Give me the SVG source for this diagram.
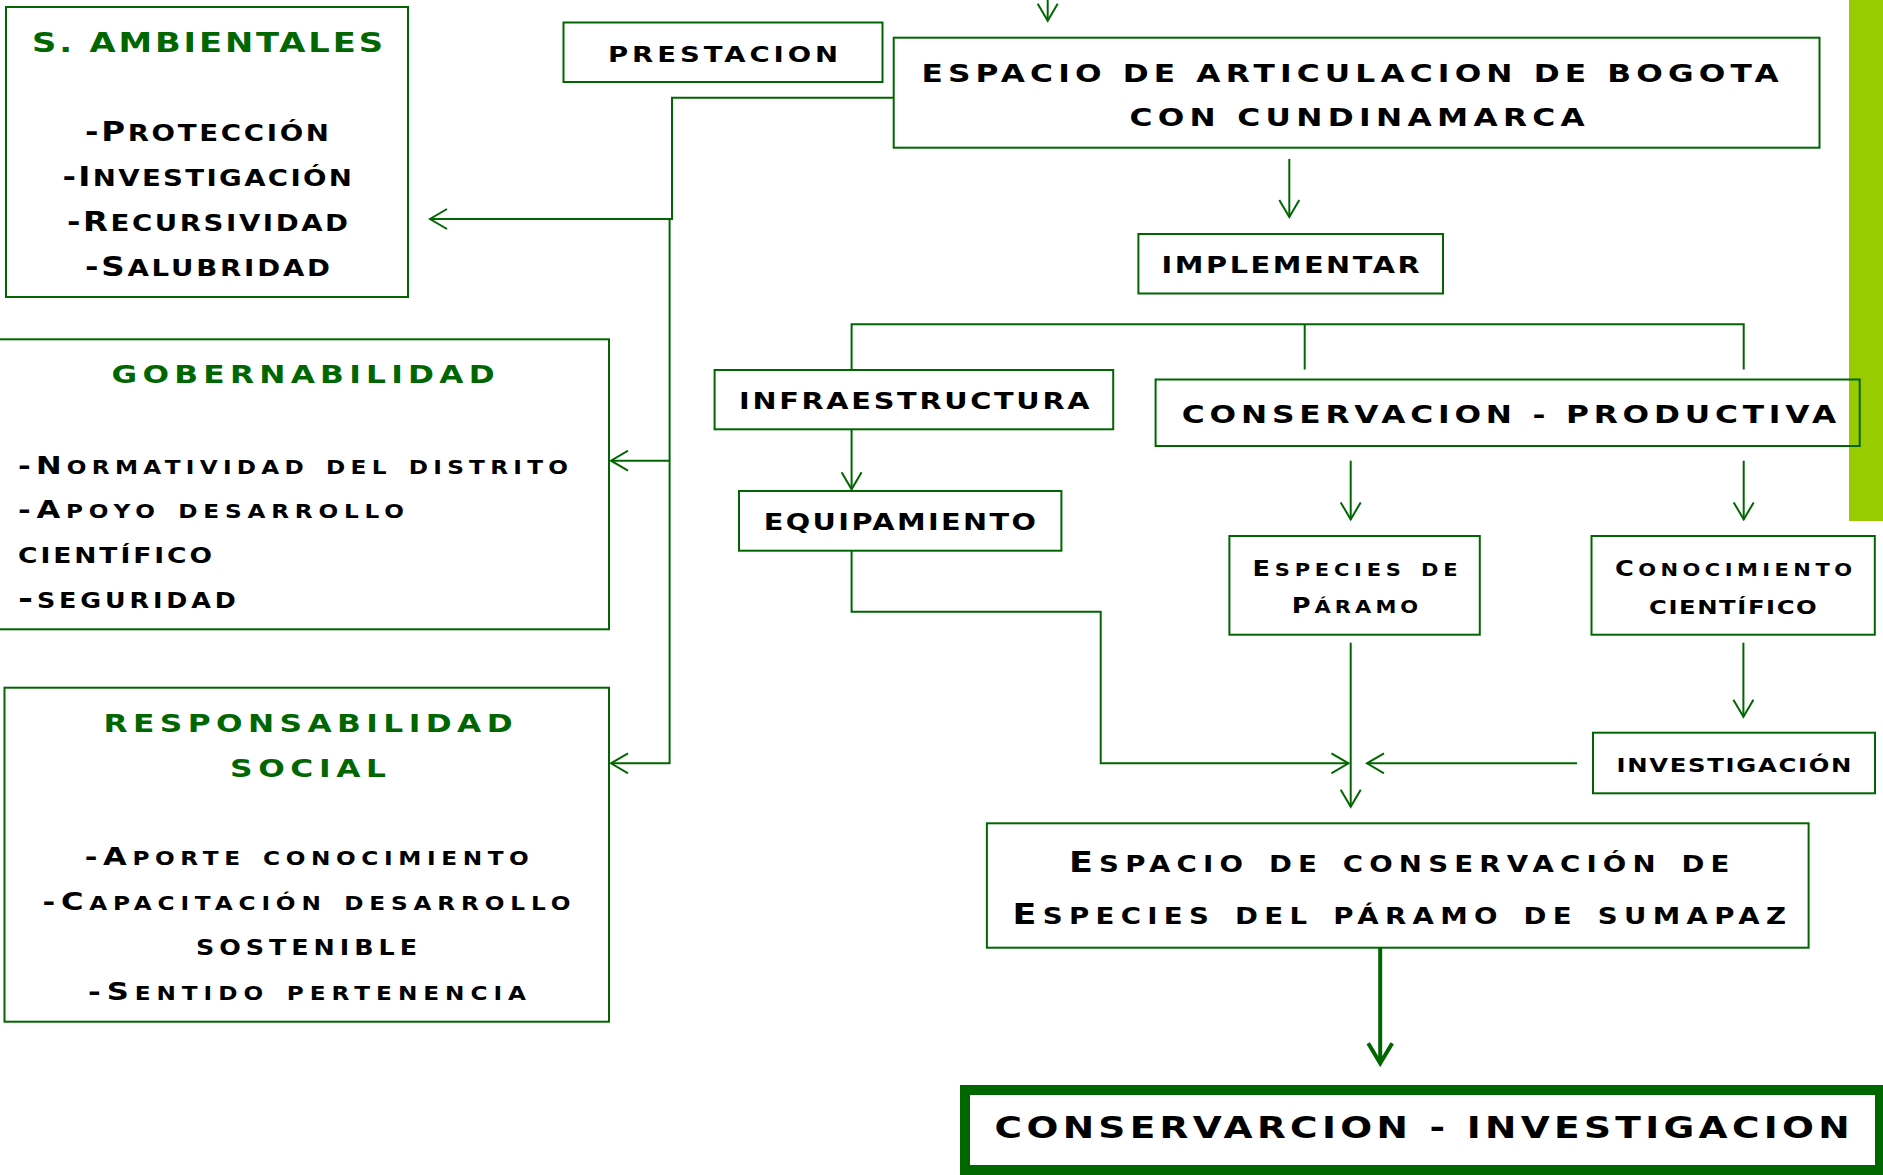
<svg xmlns="http://www.w3.org/2000/svg" width="1883" height="1175" viewBox="0 0 1883 1175">
<style>
.box{fill:#fff;stroke:#006600;stroke-width:2}
.t{font-family:"DejaVu Sans","Liberation Sans",sans-serif;font-weight:bold;fill:#000}
.g{fill:#006600}
.sc{font-variant:small-caps}
.conn{stroke:#006600;stroke-width:2;fill:none}
</style>
<defs>
<marker id="ah" markerUnits="userSpaceOnUse" viewBox="0 0 20 22" refX="18" refY="11" markerWidth="20" markerHeight="22" orient="auto">
<path d="M1,1 L18,11 L1,21" fill="none" stroke="#006600" stroke-width="2"/>
</marker>
<marker id="ahT" markerUnits="userSpaceOnUse" viewBox="0 0 26 28" refX="22" refY="14" markerWidth="26" markerHeight="28" orient="auto">
<path d="M2,2 L22,14 L2,26" fill="none" stroke="#006600" stroke-width="4"/>
</marker>
</defs>
<rect width="1883" height="1175" fill="#fff"/>
<rect id="green-bar" x="1849" y="0" width="34" height="521" fill="#99cc00"/>

<g id="connectors">
<path class="conn" d="M1047.7,-5 V20.7" marker-end="url(#ah)"/>
<path class="conn" d="M896,97.7 H672 V219 H430" marker-end="url(#ah)"/>
<path class="conn" d="M669.6,219 V763.3 H611" marker-end="url(#ah)"/>
<path class="conn" d="M669.6,460.7 H611" marker-end="url(#ah)"/>
<path class="conn" d="M1289.3,158.9 V217" marker-end="url(#ah)"/>
<path class="conn" d="M851.6,370 V324.2 H1743.7 V369.5"/>
<path class="conn" d="M1304.7,324.2 V369.5"/>
<path class="conn" d="M851.6,429.3 V489.3" marker-end="url(#ah)"/>
<path class="conn" d="M851.6,550.7 V611.7 H1100.7 V763.3 H1348.4" marker-end="url(#ah)"/>
<path class="conn" d="M1350.7,460.7 V519.4" marker-end="url(#ah)"/>
<path class="conn" d="M1743.7,460.7 V519.4" marker-end="url(#ah)"/>
<path class="conn" d="M1350.7,642.7 V806.7" marker-end="url(#ah)"/>
<path class="conn" d="M1743.4,642.7 V716.7" marker-end="url(#ah)"/>
<path class="conn" d="M1577,763.3 H1367" marker-end="url(#ah)"/>
<path class="conn" style="stroke-width:4" d="M1380.2,945 V1063.3" marker-end="url(#ahT)"/>
</g>

<g id="n-sambientales">
<rect class="box" x="6" y="7" width="402" height="290"/>
<text class="t g" transform="matrix(1.25 0 0 1 32 52)" font-size="27" textLength="280.8">S. AMBIENTALES</text>
<text class="t sc" transform="matrix(1.25 0 0 1 85 141)" font-size="26" textLength="195.2">-P<tspan font-size="31">rotección</tspan></text>
<text class="t sc" transform="matrix(1.25 0 0 1 62.5 186)" font-size="26" textLength="231.6">-I<tspan font-size="31">nvestigación</tspan></text>
<text class="t sc" transform="matrix(1.25 0 0 1 67 231)" font-size="26" textLength="224.8">-R<tspan font-size="31">ecursividad</tspan></text>
<text class="t sc" transform="matrix(1.25 0 0 1 85 276)" font-size="26" textLength="196">-S<tspan font-size="31">alubridad</tspan></text>
</g>

<g id="n-prestacion">
<rect class="box" x="563.5" y="22.5" width="319" height="59.5"/>
<text class="t" transform="matrix(1.25 0 0 1 608 62)" font-size="22" textLength="184">PRESTACION</text>
</g>

<g id="n-espacio-articulacion">
<rect class="box" x="893.7" y="37.7" width="925.8" height="110"/>
<text class="t" transform="matrix(1.25 0 0 1 921.4 81.5)" font-size="25" textLength="685.9">ESPACIO DE ARTICULACION DE BOGOTA</text>
<text class="t" transform="matrix(1.25 0 0 1 1129.4 125.8)" font-size="25" textLength="364.3">CON CUNDINAMARCA</text>
</g>

<g id="n-implementar">
<rect class="box" x="1138.4" y="234" width="304.6" height="59.5"/>
<text class="t" transform="matrix(1.25 0 0 1 1161.6 273.3)" font-size="23" textLength="206.4">IMPLEMENTAR</text>
</g>

<g id="n-infraestructura">
<rect class="box" x="714.6" y="370" width="398.6" height="59.3"/>
<text class="t" transform="matrix(1.25 0 0 1 739 409)" font-size="23" textLength="280.4">INFRAESTRUCTURA</text>
</g>

<g id="n-equipamiento">
<rect class="box" x="739" y="491" width="322.4" height="59.7"/>
<text class="t" transform="matrix(1.25 0 0 1 763.7 530)" font-size="23" textLength="217.8">EQUIPAMIENTO</text>
</g>

<g id="n-conservacion-productiva">
<rect class="box" style="fill:none" x="1155.6" y="379.5" width="704.1" height="66.5"/>
<text class="t" transform="matrix(1.25 0 0 1 1181.8 423)" font-size="25" textLength="523.6">CONSERVACION - PRODUCTIVA</text>
</g>

<g id="n-especies">
<rect class="box" x="1229.4" y="536" width="250.4" height="98.7"/>
<text class="t sc" transform="matrix(1.25 0 0 1 1252.5 576)" font-size="20.5" textLength="164">E<tspan font-size="24">species de</tspan></text>
<text class="t sc" transform="matrix(1.25 0 0 1 1291.7 613.3)" font-size="20.5" textLength="101.2">P<tspan font-size="24">áramo</tspan></text>
</g>

<g id="n-conocimiento">
<rect class="box" x="1591.5" y="536" width="283.3" height="98.7"/>
<text class="t sc" transform="matrix(1.25 0 0 1 1615 575.7)" font-size="20.5" textLength="189.6">C<tspan font-size="24">onocimiento</tspan></text>
<text class="t sc" transform="matrix(1.25 0 0 1 1649 614)" font-size="27.5" textLength="134.2">científico</text>
</g>

<g id="n-investigacion">
<rect class="box" x="1593" y="732.7" width="282" height="60.6"/>
<text class="t sc" transform="matrix(1.25 0 0 1 1616.4 771.7)" font-size="28" textLength="188">investigación</text>
</g>

<g id="n-espacio-conservacion">
<rect class="box" x="986.9" y="823.3" width="821.7" height="124.4"/>
<text class="t sc" transform="matrix(1.25 0 0 1 1069 872.3)" font-size="28" textLength="528.4">E<tspan font-size="31">spacio de conservación de</tspan></text>
<text class="t sc" transform="matrix(1.25 0 0 1 1012.5 924)" font-size="28" textLength="618.8">E<tspan font-size="31">species del páramo de sumapaz</tspan></text>
</g>

<g id="n-conservarcion-investigacion">
<rect class="box" style="stroke-width:10" x="965" y="1090" width="915" height="80"/>
<text class="t" transform="matrix(1.25 0 0 1 994.6 1138.3)" font-size="30" textLength="684">CONSERVARCION - INVESTIGACION</text>
</g>

<g id="n-gobernabilidad">
<rect class="box" x="-5" y="339.3" width="614" height="290"/>
<text class="t g" transform="matrix(1.25 0 0 1 111.6 383.3)" font-size="25" textLength="306.4">GOBERNABILIDAD</text>
<text class="t sc" transform="matrix(1.25 0 0 1 18 474)" font-size="24.5" textLength="440">-N<tspan font-size="27">ormatividad del distrito</tspan></text>
<text class="t sc" transform="matrix(1.25 0 0 1 18 518.3)" font-size="24.5" textLength="308.8">-A<tspan font-size="27">poyo desarrollo</tspan></text>
<text class="t sc" transform="matrix(1.25 0 0 1 18 563.3)" font-size="30" textLength="155.2">científico</text>
<text class="t sc" transform="matrix(1.25 0 0 1 18 608.3)" font-size="29" textLength="174.2">-seguridad</text>
</g>

<g id="n-responsabilidad">
<rect class="box" x="4.5" y="687.7" width="604.5" height="334"/>
<text class="t g" transform="matrix(1.25 0 0 1 103.6 731.7)" font-size="25" textLength="327.2">RESPONSABILIDAD</text>
<text class="t g" transform="matrix(1.25 0 0 1 230 776.7)" font-size="25" textLength="124.8">SOCIAL</text>
<text class="t sc" transform="matrix(1.25 0 0 1 84.8 865)" font-size="24.5" textLength="355.2">-A<tspan font-size="27">porte conocimiento</tspan></text>
<text class="t sc" transform="matrix(1.25 0 0 1 42.4 910)" font-size="24.5" textLength="422.4">-C<tspan font-size="27">apacitación desarrollo</tspan></text>
<text class="t sc" transform="matrix(1.25 0 0 1 196 955)" font-size="29" textLength="176.8">sostenible</text>
<text class="t sc" transform="matrix(1.25 0 0 1 88 1000)" font-size="24.5" textLength="350.4">-S<tspan font-size="27">entido pertenencia</tspan></text>
</g>
</svg>
